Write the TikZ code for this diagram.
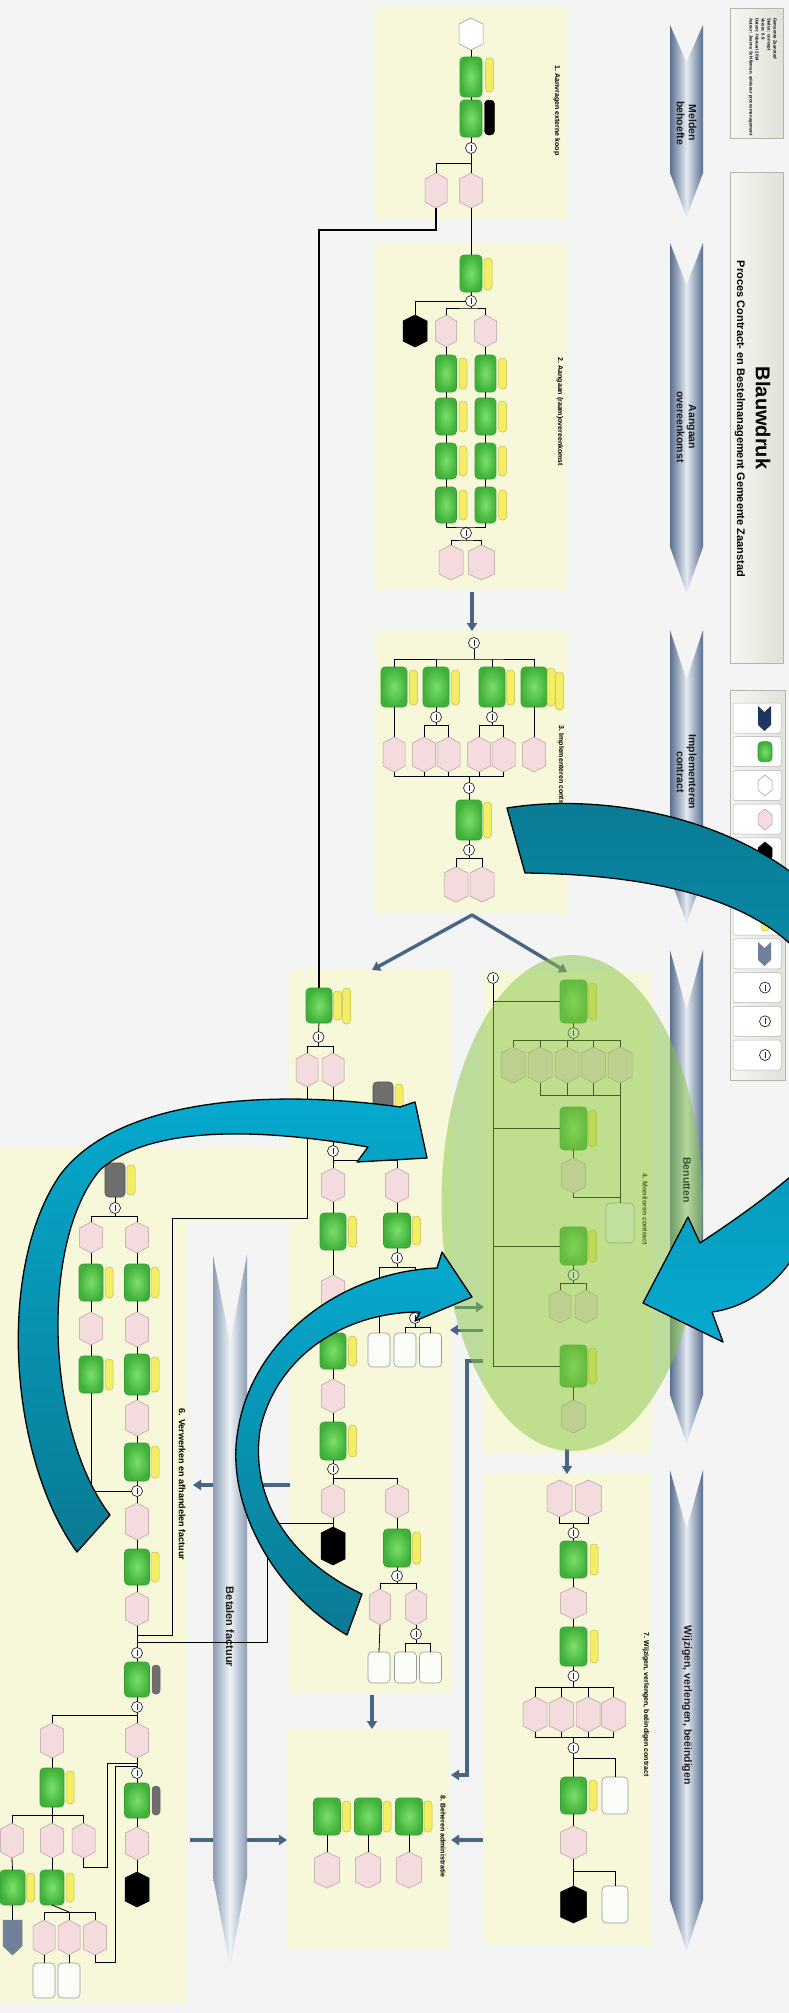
\documentclass[tikz,border=0pt]{standalone}
\usepackage{fontspec}
\setmainfont{Liberation Sans}
\usetikzlibrary{arrows.meta}
\definecolor{bgc}{HTML}{F3F4F3}
\definecolor{panelc}{HTML}{F7F8DA}
\definecolor{ginner}{HTML}{7CE06A}
\definecolor{gouter}{HTML}{3FB03A}
\definecolor{gdraw}{HTML}{3A9A35}
\definecolor{yfill}{HTML}{F4EE66}
\definecolor{ydraw}{HTML}{C4BC45}
\definecolor{pfill}{HTML}{F4DCDE}
\definecolor{pdraw}{HTML}{B49CA0}
\definecolor{wfill}{HTML}{FBFBF8}
\definecolor{wdraw}{HTML}{9A9A9A}
\definecolor{grayc}{HTML}{6E6E6E}
\definecolor{phasec}{HTML}{5A6F8F}
\definecolor{phaselight}{HTML}{E3EAF2}
\definecolor{betc}{HTML}{8C9CB4}
\definecolor{betlight}{HTML}{EEF2F7}
\definecolor{flowc}{HTML}{4A6486}
\definecolor{hdrL}{HTML}{F5F6F2}
\definecolor{hdrR}{HTML}{DFE2D8}
\definecolor{hdrdraw}{HTML}{B3B6AD}
\definecolor{navyc}{HTML}{1E3560}
\definecolor{flagc}{HTML}{6F809A}
\definecolor{ellc}{HTML}{89C644}
\definecolor{benc}{HTML}{34502F}
\definecolor{cyanbright}{HTML}{06AACF}
\definecolor{cyandark}{HTML}{0A7A93}
\tikzset{
 conn/.style={draw=black, line width=0.8pt},
 lconn/.style={draw=black, line width=1.1pt},
 gbox/.style={draw=gdraw, line width=0.6pt, rounded corners=4pt, inner color=ginner, outer color=gouter, inner sep=0pt, outer sep=0pt},
 graybox/.style={draw=black!70, fill=grayc, line width=0.6pt, rounded corners=4pt, inner sep=0pt, outer sep=0pt},
 wbox/.style={draw=wdraw, fill=wfill, line width=0.6pt, rounded corners=4pt, inner sep=0pt, outer sep=0pt},
 anchorbox/.style={inner sep=0pt, outer sep=0pt},
 phex/.style={draw=pdraw, fill=pfill, line width=0.5pt},
 whex/.style={draw=wdraw, fill=white, line width=0.5pt},
 bhex/.style={draw=black, fill=black, line width=0.5pt},
 ypill/.style={draw=ydraw, fill=yfill, line width=0.5pt, rounded corners=3.5pt},
 gpill/.style={draw=black!60, fill=grayc, line width=0.5pt, rounded corners=3.5pt},
 kpill/.style={draw=black, fill=black, rounded corners=4pt},
 circ/.style={circle, draw=black!85, fill=white, line width=0.7pt, minimum size=11pt, inner sep=0pt, outer sep=0pt,
   path picture={\draw[line width=0.5pt] ([yshift=2.5pt]path picture bounding box.south) -- ([yshift=-2.5pt]path picture bounding box.north);}},
 flow/.style={draw=flowc, line width=3.4pt, -{Triangle[length=8pt,width=10pt]}},
 panel/.style={fill=panelc},
 hdr/.style={draw=hdrdraw, line width=0.8pt, left color=hdrL, right color=hdrR},
 legitem/.style={draw=black!30, fill=white, rounded corners=2pt, line width=0.5pt},
 phasesh/.style={left color=phasec, right color=phasec, middle color=phaselight},
 betsh/.style={left color=betc, right color=betc, middle color=betlight},
 sectitle/.style={rotate=-90, anchor=west, font=\fontsize{7}{8}\selectfont\bfseries, inner sep=0pt},
 phaselabel/.style={rotate=-90, align=center, font=\fontsize{10.5}{12}\selectfont\bfseries, text=black!90, inner sep=0pt},
 cyanarr/.style={draw=black, line width=1.3pt, line join=round},
}
% name, cx, y1, y2, width
\newcommand{\GBox}[5]{\node[gbox, minimum width={#5*1pt}, minimum height={(#4-#3)*1pt}] (#1) at (#2,{(#3+#4)/2}) {};}
\newcommand{\WBox}[5]{\node[wbox, minimum width={#5*1pt}, minimum height={(#4-#3)*1pt}] (#1) at (#2,{(#3+#4)/2}) {};}
% cx, y1, y2
\newcommand{\YPill}[3]{\draw[ypill] ({#1-4},#2) rectangle ({#1+4},#3);}
% name, style, cx, y1, y2, halfwidth
\newcommand{\HexN}[6]{\draw[#2] ({#3-#6},{#4+6}) -- (#3,#4) -- ({#3+#6},{#4+6}) -- ({#3+#6},{#5-6}) -- (#3,#5) -- ({#3-#6},{#5-6}) -- cycle;
 \node[anchorbox, minimum width={2*#6*1pt}, minimum height={(#5-#4)*1pt}] (#1) at (#3,{(#4+#5)/2}) {};}
\newcommand{\CNode}[3]{\node[circ] (#1) at (#2,#3) {};}
\begin{document}
\begin{tikzpicture}[x=1pt,y=-1pt]
\useasboundingbox (0,0) rectangle (789,2013);
\fill[bgc] (0,0) rectangle (789,2013);
% ---------- header boxes ----------
\draw[hdr] (730,8) rectangle (783,138);
\draw[hdr] (730,172) rectangle (783,663);
\draw[hdr] (730,690) rectangle (785,1080);
\node[rotate=-90, anchor=north west, align=left, inner sep=0pt, font=\fontsize{4.3}{6}\selectfont\bfseries] (meta) at (777,18)
 {Gemeente Zaanstad\\Status: concept\\Versie: 0.9\\Datum: februari 2014\\Auteur: Jeanne Schilleman, adviseur procesmanagement};
\node[rotate=-90, inner sep=0pt, font=\fontsize{20}{24}\selectfont\bfseries] (title) at (763,418) {Blauwdruk};
\node[rotate=-90, inner sep=0pt, font=\fontsize{11}{13}\selectfont\bfseries] (subtitle) at (740,419) {Proces Contract- en Bestelmanagement Gemeente Zaanstad};
% legend
\foreach \i in {0,...,10} {\draw[legitem] (733,{703+33.7*\i}) rectangle (781,{733+33.7*\i});}
\fill[navyc] (758,706) -- (764.5,712) -- (771,706) -- (771,725) -- (764.5,731) -- (758,725) -- cycle;
\node[gbox, minimum width=14pt, minimum height=20pt] (lg1) at (765,751.7) {};
\HexN{lg2}{whex}{765}{775}{796}{7}
\HexN{lg3}{phex}{765}{809}{830}{7}
\HexN{lg4}{bhex}{765}{842}{863}{7}
\node[graybox, minimum width=14pt, minimum height=20pt] (lg5) at (765,886.5) {};
\draw[ypill] (761,910) rectangle (769,931);
\fill[flagc] (758,942) -- (764.5,948) -- (771,942) -- (771,960) -- (764.5,966) -- (758,960) -- cycle;
\node[circ] (lg8) at (765,987.6) {};
\node[circ] (lg9) at (765,1021.3) {};
\node[circ] (lg10) at (765,1055) {};
% ---------- panels ----------
\fill[panel] (375,8) rectangle (568,220);
\fill[panel] (375,243) rectangle (568,590);
\fill[panel] (375,632) rectangle (568,913);
\fill[panel] (483,972) rectangle (652,1453);
\fill[panel] (290,969) rectangle (452,1693);
\fill[panel] (0,1147) rectangle (188,2003);
\fill[panel] (188,1147) rectangle (290,1222);
\fill[panel] (483,1474) rectangle (652,1945);
\fill[panel] (288,1730) rectangle (450,1950);
% ---------- phase arrows ----------
\shade[phasesh] (670,25) -- (686.5,62) -- (703,25) -- (703,173) -- (686.5,217) -- (670,173) -- cycle;
\shade[phasesh] (670,243) -- (686.5,285) -- (703,243) -- (703,547) -- (686.5,593) -- (670,547) -- cycle;
\shade[phasesh] (670,630) -- (686.5,680) -- (703,630) -- (703,877) -- (686.5,923) -- (670,877) -- cycle;
\shade[phasesh] (670,950) -- (686.5,1010) -- (703,950) -- (703,1395) -- (686.5,1443) -- (670,1395) -- cycle;
\shade[phasesh] (670,1470) -- (686.5,1529) -- (703,1470) -- (703,1900) -- (686.5,1951) -- (670,1900) -- cycle;
\node[phaselabel] (ph1) at (686.5,123) {Melden\\behoefte};
\node[phaselabel] (ph2) at (686.5,427) {Aangaan\\overeenkomst};
\node[phaselabel] (ph3) at (686.5,772) {Implementeren\\contract};
\node[phaselabel] (ph5) at (687,1705) {Wijzigen, verlengen, beëindigen};
% ---------- flow arrows behind Betalen bar ----------
\coordinate (fa1) at (290,1485); \coordinate (fa2) at (193,1485);
\coordinate (fb1) at (190,1840); \coordinate (fb2) at (287,1840);
\draw[flow] (fa1) -- (fa2);
\draw[flow] (fb1) -- (fb2);
\shade[betsh] (213,1255) -- (230,1343) -- (247,1255) -- (247,1877) -- (230,1967) -- (213,1877) -- cycle;
\node[phaselabel, font=\fontsize{11}{13}\selectfont\bfseries] (ph6) at (230,1627) {Betalen factuur};
% ---------- section titles ----------
\node[sectitle] (t1) at (557,65) {1. Aanvragen externe koop};
\node[sectitle] (t2) at (560,357) {2. Aangaan (raam)overeenkomst};
\node[sectitle] (t3) at (561,725) {3. Implementeren contract};
\node[sectitle] (t4) at (645,1173) {4. Monitoren contract};
\node[sectitle, font=\fontsize{9}{10}\selectfont\bfseries] (t6) at (182,1408) {6. Verwerken en afhandelen factuur};
\node[sectitle] (t7) at (646,1632) {7. Wijzigen, verlengen, beëindigen contract};
\node[sectitle] (t8) at (443,1795) {8. Beheren administratie};
% ================= SECTION 1 =================
\HexN{wh11}{whex}{471}{18}{50}{12}
\GBox{g11}{471}{57}{97}{22}
\YPill{489.5}{58}{92}
\GBox{g12}{471}{100}{137}{22}
\draw[kpill] (484.5,100) rectangle (494.5,135);
\CNode{c11}{471}{148}
\HexN{p11}{phex}{471}{173}{208}{11.5}
\HexN{p12}{phex}{436}{173}{208}{11}
\coordinate (b11) at (471,163);
\draw[conn] (wh11.south) -- (g11.north);
\draw[conn] (g11.south) -- (g12.north);
\draw[conn] (g12.south) -- (c11.north);
\draw[conn] (c11.south) -- (p11.north);
\draw[conn] (b11) -| (p12.north);
% ================= SECTION 2 =================
\GBox{g21}{471}{255}{292}{22}
\YPill{488}{258}{290}
\CNode{c21}{471}{301}
\HexN{k21}{bhex}{415}{315}{347}{12}
\HexN{p21}{phex}{446}{315}{347}{10.5}
\HexN{p22}{phex}{485.5}{315}{347}{11}
\GBox{g2b1}{446}{355}{392}{21}\YPill{463}{358}{389}
\GBox{g2b2}{446}{398}{435}{21}\YPill{463}{401}{432}
\GBox{g2b3}{446}{443}{479}{21}\YPill{463}{446}{476}
\GBox{g2b4}{446}{487}{523}{21}\YPill{463}{490}{520}
\GBox{g2a1}{485.5}{355}{392}{21}\YPill{502.5}{358}{389}
\GBox{g2a2}{485.5}{398}{435}{21}\YPill{502.5}{401}{432}
\GBox{g2a3}{485.5}{443}{479}{21}\YPill{502.5}{446}{476}
\GBox{g2a4}{485.5}{487}{523}{21}\YPill{502.5}{490}{520}
\CNode{c22}{466}{533}
\HexN{p23}{phex}{451}{545}{580}{12}
\HexN{p24}{phex}{481.5}{545}{580}{13}
\coordinate (b21) at (471,308);
\coordinate (m21) at (466,527);
\coordinate (b22) at (466,540);
\draw[conn] (p11.south) -- (g21.north);
\draw[conn] (g21.south) -- (c21.north);
\draw[conn] (c21.west) -| (k21.north);
\draw[conn] (c21.south) -- (b21);
\draw[conn] (p21.north) |- (b21) -| (p22.north);
\draw[conn] (p21.south) -- (g2b1.north);
\draw[conn] (g2b1.south) -- (g2b2.north);
\draw[conn] (g2b2.south) -- (g2b3.north);
\draw[conn] (g2b3.south) -- (g2b4.north);
\draw[conn] (p22.south) -- (g2a1.north);
\draw[conn] (g2a1.south) -- (g2a2.north);
\draw[conn] (g2a2.south) -- (g2a3.north);
\draw[conn] (g2a3.south) -- (g2a4.north);
\draw[conn] (g2b4.south) |- (m21) -| (g2a4.south);
\draw[conn] (m21) -- (c22.north);
\draw[conn] (c22.south) -- (b22);
\draw[conn] (p23.north) |- (b22) -| (p24.north);
\coordinate (f23a) at (472,592); \coordinate (f23b) at (472,631);
\draw[flow] (f23a) -- (f23b);
% ================= SECTION 3 =================
\CNode{c31}{474}{643}
\coordinate (b31) at (474,659);
\GBox{g31}{394}{667}{707}{26}\YPill{413.5}{670}{705}
\GBox{g32}{436}{667}{707}{26}\YPill{455.5}{670}{705}
\GBox{g33}{492}{667}{707}{26}\YPill{510.5}{670}{705}
\GBox{g34}{534}{667}{707}{26}\YPill{551}{668}{706}\YPill{559.5}{672}{710}
\HexN{p31}{phex}{394}{737}{772}{11}
\CNode{c32}{436}{717}
\coordinate (b32) at (436,725);
\HexN{p32}{phex}{424}{737}{772}{11.5}
\HexN{p33}{phex}{448.5}{737}{772}{11.5}
\CNode{c33}{492}{717}
\coordinate (b33) at (492,725);
\HexN{p34}{phex}{479}{737}{772}{11.5}
\HexN{p35}{phex}{503.5}{737}{772}{11.5}
\HexN{p36}{phex}{534}{737}{772}{11.5}
\coordinate (m31) at (469,776);
\CNode{c34}{469}{788}
\GBox{g35}{469}{800}{840}{26}\YPill{487.5}{802}{838}
\CNode{c35}{469}{850}
\coordinate (b35) at (469,858);
\HexN{p37}{phex}{456}{867}{902}{12}
\HexN{p38}{phex}{482}{867}{902}{12}
\draw[conn] (c31.south) -- (b31);
\draw[conn] (g31.north) |- (b31) -| (g34.north);
\draw[conn] (g32.north) -- (g32.north |- b31);
\draw[conn] (g33.north) -- (g33.north |- b31);
\draw[conn] (g31.south) -- (p31.north);
\draw[conn] (g32.south) -- (c32.north);
\draw[conn] (c32.south) -- (b32);
\draw[conn] (p32.north) |- (b32) -| (p33.north);
\draw[conn] (g33.south) -- (c33.north);
\draw[conn] (c33.south) -- (b33);
\draw[conn] (p34.north) |- (b33) -| (p35.north);
\draw[conn] (g34.south) -- (p36.north);
\draw[conn] (p31.south) |- (m31) -| (p35.south);
\draw[conn] (p32.south) -- (p32.south |- m31);
\draw[conn] (p33.south) -- (p33.south |- m31);
\draw[conn] (p34.south) -- (p34.south |- m31);
\draw[conn] (m31) -- (c34.north);
\draw[conn] (c34.south) -- (g35.north);
\draw[conn] (g35.south) -- (c35.north);
\draw[conn] (c35.south) -- (b35);
\draw[conn] (p37.north) |- (b35) -| (p38.north);
% roof arrows
\coordinate (roof) at (472,915); \coordinate (roofL) at (372,970); \coordinate (roofR) at (567,972);
\draw[flow, line cap=round] (roof) -- (roofL);
\draw[flow, line cap=round] (roof) -- (roofR);
% ================= SECTION 4 =================
\CNode{c41}{493}{978}
\coordinate (v4) at (493,1366);
\GBox{g41}{573.5}{980}{1023}{27}\YPill{592.5}{983}{1020}
\CNode{c42}{573.5}{1033}
\coordinate (b42) at (573.5,1040);
\HexN{p41}{phex}{513}{1047}{1083}{12}
\HexN{p42}{phex}{540}{1047}{1083}{12}
\HexN{p43}{phex}{567}{1047}{1083}{12}
\HexN{p44}{phex}{593.5}{1047}{1083}{12}
\HexN{p45}{phex}{620}{1047}{1083}{12}
\coordinate (m42) at (620,1095);
\GBox{g42}{573.5}{1107}{1150}{27}\YPill{592.5}{1110}{1147}
\HexN{p46}{phex}{573.5}{1158}{1193}{12}
\WBox{w41}{620}{1203}{1243}{28}
\GBox{g43}{573.5}{1227}{1265}{27}\YPill{592.5}{1230}{1262}
\CNode{c43}{573.5}{1275}
\coordinate (b43) at (573.5,1283);
\HexN{p47}{phex}{560}{1290}{1323}{11}
\HexN{p48}{phex}{586}{1290}{1323}{11}
\GBox{g44}{573.5}{1345}{1387}{27}\YPill{592.5}{1348}{1384}
\HexN{p49}{phex}{573.5}{1400}{1433}{12}
\draw[conn] (c41.south) -- (v4);
\draw[conn] (g41.west) -- (g41.west -| c41);
\draw[conn] (g42.west) -- (g42.west -| c41);
\draw[conn] (g43.west) -- (g43.west -| c41);
\draw[conn] (g44.west) -- (g44.west -| c41);
\draw[conn] (g41.south) -- (c42.north);
\draw[conn] (c42.south) -- (b42);
\draw[conn] (p41.north) |- (b42) -| (p45.north);
\draw[conn] (p42.north) -- (p42.north |- b42);
\draw[conn] (p43.north) -- (p43.north |- b42);
\draw[conn] (p44.north) -- (p44.north |- b42);
\draw[conn] (p42.south) |- (m42);
\draw[conn] (p43.south) -- (p43.south |- m42);
\draw[conn] (p44.south) -- (p44.south |- m42);
\draw[conn] (p45.south) -- (w41.north);
\draw[conn] (g42.south) -- (p46.north);
\draw[conn] (p46.south) |- (w41.north |- 0,1197);
\draw[conn] (g43.south) -- (c43.north);
\draw[conn] (c43.south) -- (b43);
\draw[conn] (p47.north) |- (b43) -| (p48.north);
\draw[conn] (g44.south) -- (p49.north);
% ================= SECTION 5 =================
\GBox{g51}{319}{988}{1023}{26}\YPill{337.5}{991}{1020}\YPill{346.5}{988}{1024}
\CNode{c51}{318.5}{1037}
\coordinate (b51) at (318.5,1046);
\HexN{p51}{phex}{307}{1053}{1087}{11}
\HexN{p52}{phex}{333}{1053}{1087}{11}
\node[graybox, minimum width=20pt, minimum height=34pt] (k51) at (383,1099) {};
\YPill{399}{1084}{1114}
\CNode{c52}{333}{1151}
\coordinate (b52) at (333,1160);
\HexN{p5a1}{phex}{333}{1168}{1202}{11.5}
\GBox{g5a1}{333}{1213}{1250}{26}\YPill{352.5}{1216}{1247}
\HexN{p5a2}{phex}{333}{1275}{1310}{11.5}
\GBox{g5a2}{333}{1333}{1369}{26}\YPill{352.5}{1336}{1366}
\HexN{p5a3}{phex}{333}{1379}{1413}{11.5}
\GBox{g5a3}{333}{1422}{1460}{26}\YPill{352.5}{1425}{1457}
\CNode{c5a}{333}{1469}
\coordinate (b5a) at (333,1478);
\HexN{p5a4}{phex}{333}{1484}{1518}{11.5}
\HexN{k5a}{bhex}{333}{1527}{1565}{12}
\coordinate (j5a) at (333,1523);
\HexN{p5b1}{phex}{397}{1168}{1203}{11.5}
\GBox{g5b1}{397}{1213}{1248}{27}\YPill{416.5}{1216}{1245}
\CNode{c5b1}{397}{1258}
\coordinate (b5b1) at (397,1267);
\WBox{w5b1}{379}{1333}{1367}{22}
\CNode{c5b2}{415}{1318}
\coordinate (b5b2) at (415,1327);
\WBox{w5b2}{405}{1333}{1367}{22}
\WBox{w5b3}{430.5}{1333}{1367}{22}
\HexN{p5b2}{phex}{397}{1484}{1518}{11.5}
\GBox{g5b2}{397}{1529}{1567}{27}\YPill{416.5}{1532}{1564}
\CNode{c5b3}{397}{1576}
\coordinate (b5b3) at (397,1583);
\HexN{p5b3}{phex}{380}{1589}{1625}{10.5}
\HexN{p5b4}{phex}{416}{1589}{1625}{10.5}
\WBox{w5b4}{379}{1652}{1683}{22}
\CNode{c5b4}{416}{1634}
\coordinate (b5b4) at (416,1643);
\WBox{w5b5}{405.5}{1652}{1683}{22}
\WBox{w5b6}{430.5}{1652}{1683}{22}
\draw[lconn] (p12.south) -- ++(0,22) -| (g51.north);
\draw[conn] (g51.south) -- (c51.north);
\draw[conn] (c51.south) -- (b51);
\draw[conn] (p51.north) |- (b51) -| (p52.north);
\draw[conn] (p52.south) -- (c52.north);
\draw[conn] (c52.south) -- (p5a1.north);
\draw[conn] (b52) -| (p5b1.north);
\draw[conn] (p5a1.south) -- (g5a1.north);
\draw[conn] (g5a1.south) -- (p5a2.north);
\draw[conn] (p5a2.south) -- (g5a2.north);
\draw[conn] (g5a2.south) -- (p5a3.north);
\draw[conn] (p5a3.south) -- (g5a3.north);
\draw[conn] (g5a3.south) -- (c5a.north);
\draw[conn] (c5a.south) -- (p5a4.north);
\draw[conn] (b5a) -| (p5b2.north);
\draw[conn] (p5a4.south) -- (k5a.north);
\draw[conn] (p5b1.south) -- (g5b1.north);
\draw[conn] (g5b1.south) -- (c5b1.north);
\draw[conn] (c5b1.south) -- (b5b1);
\draw[conn] (w5b1.north) |- (b5b1) -| (c5b2.north);
\draw[conn] (c5b2.south) -- (b5b2);
\draw[conn] (w5b2.north) |- (b5b2) -| (w5b3.north);
\draw[conn] (p5b2.south) -- (g5b2.north);
\draw[conn] (g5b2.south) -- (c5b3.north);
\draw[conn] (c5b3.south) -- (b5b3);
\draw[conn] (p5b3.north) |- (b5b3) -| (p5b4.north);
\draw[conn] (p5b3.south) -- (w5b4.north);
\draw[conn] (p5b4.south) -- (c5b4.north);
\draw[conn] (c5b4.south) -- (b5b4);
\draw[conn] (w5b5.north) |- (b5b4) -| (w5b6.north);
% ================= SECTION 6 =================
\node[graybox, minimum width=20pt, minimum height=34pt] (k61) at (115,1180) {};
\YPill{131}{1165}{1195}
\CNode{c61}{115}{1208}
\coordinate (b61) at (115,1216);
\HexN{p6l1}{phex}{91}{1222}{1253}{11.5}
\GBox{g6l1}{91}{1264}{1301}{24}\YPill{109}{1267}{1298}
\HexN{p6l2}{phex}{91}{1312}{1345}{11.5}
\GBox{g6l2}{91}{1356}{1393}{24}\YPill{109}{1359}{1390}
\HexN{p6r1}{phex}{137}{1222}{1253}{11.5}
\GBox{g6r1}{137}{1264}{1301}{25}\YPill{155}{1267}{1298}
\HexN{p6r2}{phex}{137}{1312}{1347}{11.5}
\GBox{g6r2}{137}{1354}{1395}{25}\YPill{155}{1357}{1392}
\HexN{p6r3}{phex}{137}{1400}{1436}{11.5}
\GBox{g6r3}{137}{1443}{1481}{25}\YPill{155}{1446}{1478}
\CNode{c62}{137}{1491}
\HexN{p6r4}{phex}{137}{1503}{1540}{11.5}
\GBox{g6r4}{137}{1549}{1585}{25}\YPill{155}{1552}{1582}
\HexN{p6r5}{phex}{137}{1592}{1626}{11.5}
\coordinate (j61) at (137,1635);
\coordinate (j62) at (137,1642);
\CNode{c63}{137}{1653}
\GBox{g6r5}{137}{1662}{1697}{25}\draw[gpill] (152,1665) rectangle (160,1694);
\CNode{c64}{137}{1707}
\coordinate (b64) at (137,1715);
\HexN{p6r6}{phex}{137}{1723}{1758}{11.5}
\CNode{c65}{137}{1773}
\GBox{g6r6}{137}{1783}{1818}{25}\draw[gpill] (152,1786) rectangle (160,1815);
\HexN{p6r7}{phex}{137}{1827}{1860}{11.5}
\HexN{k62}{bhex}{137}{1872}{1907}{12}
\HexN{p6l3}{phex}{52}{1723}{1758}{11.5}
\GBox{g6l3}{52}{1768}{1807}{24}\YPill{70}{1771}{1804}
\coordinate (b6l3) at (52,1815);
\HexN{p6l4}{phex}{12}{1823}{1858}{11.5}
\HexN{p6l5}{phex}{52}{1823}{1858}{11.5}
\HexN{p6l6}{phex}{83.5}{1823}{1858}{11.5}
\GBox{g6l4}{12.5}{1870}{1905}{25}\YPill{30.5}{1873}{1902}
\draw[fill=flagc, draw=black!50, line width=0.5pt] (3,1920) -- (22,1920) -- (22,1946) -- (12.5,1955) -- (3,1946) -- cycle;
\node[anchorbox, minimum width=19pt, minimum height=35pt] (fl61) at (12.5,1937.5) {};
\GBox{g6l5}{52}{1870}{1905}{24}\YPill{70}{1873}{1902}
\coordinate (b6l5) at (52,1912);
\HexN{p6l7}{phex}{44}{1920}{1955}{11}
\HexN{p6l8}{phex}{69}{1920}{1955}{11}
\HexN{p6l9}{phex}{95}{1920}{1955}{11.5}
\WBox{w6l1}{44}{1963}{1998}{22}
\WBox{w6l2}{69}{1963}{1998}{22}
\coordinate (j63) at (137,1763);
\coordinate (j64) at (137,1766);
\draw[conn] (k61.south) -- (c61.north);
\draw[conn] (c61.south) -- (b61);
\draw[conn] (p6l1.north) |- (b61) -| (p6r1.north);
\draw[conn] (p6l1.south) -- (g6l1.north);
\draw[conn] (g6l1.south) -- (p6l2.north);
\draw[conn] (p6l2.south) -- (g6l2.north);
\draw[conn] (g6l2.south) |- (c62.west);
\draw[conn] (p6r1.south) -- (g6r1.north);
\draw[conn] (g6r1.south) -- (p6r2.north);
\draw[conn] (p6r2.south) -- (g6r2.north);
\draw[conn] (g6r2.south) -- (p6r3.north);
\draw[conn] (p6r3.south) -- (g6r3.north);
\draw[conn] (g6r3.south) -- (c62.north);
\draw[conn] (c62.south) -- (p6r4.north);
\draw[conn] (p6r4.south) -- (g6r4.north);
\draw[conn] (g6r4.south) -- (p6r5.north);
\draw[conn] (p6r5.south) -- (c63.north);
\draw[conn] (c63.south) -- (g6r5.north);
\draw[conn] (g6r5.south) -- (c64.north);
\draw[conn] (c64.south) -- (p6r6.north);
\draw[conn] (p6l3.north) |- (b64);
\draw[conn] (p6r6.south) -- (c65.north);
\draw[conn] (c65.south) -- (g6r6.north);
\draw[conn] (g6r6.south) -- (p6r7.north);
\draw[conn] (p6r7.south) -- (k62.north);
\draw[conn] (p6l3.south) -- (g6l3.north);
\draw[conn] (g6l3.south) -- (p6l5.north);
\draw[conn] (p6l4.north) |- (b6l3) -| (p6l6.north);
\draw[conn] (p6l4.south) -- (g6l4.north);
\draw[conn] (g6l4.south) -- (fl61.north);
\draw[conn] (p6l5.south) -- (g6l5.north);
\draw[conn] (g6l5.south) -- (p6l8.north |- b6l5);
\draw[conn] (p6l7.north) |- (b6l5) -| (p6l9.north);
\draw[conn] (p6l8.north) -- (p6l8.north |- b6l5);
\draw[conn] (p6l7.south) -- (w6l1.north);
\draw[conn] (p6l8.south) -- (w6l2.north);
\draw[conn] (p6l6.south) |- (107,1867) |- (j63);
\draw[conn] (p6l9.south) |- (115,1962) |- (j64);
% long links from section 5 into section 6
\draw[conn] (p51.south) |- (172,1218) |- (j61);
\draw[conn] (j5a) -| (267,1642) -- (j62);
% ================= SECTION 7 =================
\HexN{p71}{phex}{559.5}{1480}{1517}{12.5}
\HexN{p72}{phex}{588.5}{1480}{1517}{13}
\coordinate (m71) at (573.5,1523);
\CNode{c71}{573.5}{1533}
\GBox{g71}{573.5}{1541}{1578}{27}\YPill{594}{1544}{1575}
\HexN{p73}{phex}{573.5}{1587}{1619}{13}
\GBox{g72}{573.5}{1627}{1666}{27}\YPill{594}{1630}{1663}
\CNode{c72}{573.5}{1676}
\coordinate (b72) at (573.5,1687);
\HexN{p74}{phex}{535}{1697}{1732}{12}
\HexN{p75}{phex}{561.5}{1697}{1732}{12}
\HexN{p76}{phex}{588}{1697}{1732}{12}
\HexN{p77}{phex}{613.5}{1697}{1732}{12}
\coordinate (m72) at (573.5,1737);
\CNode{c73}{573.5}{1748}
\coordinate (b73) at (573.5,1758);
\GBox{g73}{573.5}{1777}{1814}{26}\YPill{593}{1780}{1811}
\WBox{w71}{615}{1777}{1814}{26}
\HexN{p78}{phex}{573.5}{1826}{1859}{13}
\coordinate (b74) at (573.5,1871);
\HexN{k71}{bhex}{573.5}{1886}{1923}{13}
\WBox{w72}{615}{1886}{1923}{26}
\draw[conn] (p71.south) |- (m71) -| (p72.south);
\draw[conn] (m71) -- (c71.north);
\draw[conn] (c71.south) -- (g71.north);
\draw[conn] (g71.south) -- (p73.north);
\draw[conn] (p73.south) -- (g72.north);
\draw[conn] (g72.south) -- (c72.north);
\draw[conn] (c72.south) -- (b72);
\draw[conn] (p74.north) |- (b72) -| (p77.north);
\draw[conn] (p75.north) -- (p75.north |- b72);
\draw[conn] (p76.north) -- (p76.north |- b72);
\draw[conn] (p74.south) |- (m72) -| (p77.south);
\draw[conn] (p75.south) -- (p75.south |- m72);
\draw[conn] (p76.south) -- (p76.south |- m72);
\draw[conn] (m72) -- (c73.north);
\draw[conn] (c73.south) -- (g73.north);
\draw[conn] (b73) -| (w71.north);
\draw[conn] (g73.south) -- (p78.north);
\draw[conn] (p78.south) -- (k71.north);
\draw[conn] (b74) -| (w72.north);
% ================= SECTION 8 =================
\GBox{g81}{327}{1798}{1835}{27}\YPill{346.5}{1801}{1832}
\GBox{g82}{368}{1798}{1835}{27}\YPill{387}{1801}{1832}
\GBox{g83}{409}{1798}{1835}{27}\YPill{428}{1801}{1832}
\HexN{p81}{phex}{327}{1852}{1888}{12.5}
\HexN{p82}{phex}{368}{1852}{1888}{12.5}
\HexN{p83}{phex}{409}{1852}{1888}{12.5}
\draw[conn] (g81.south) -- (p81.north);
\draw[conn] (g82.south) -- (p82.north);
\draw[conn] (g83.south) -- (p83.north);
% ---------- other flow arrows ----------
\coordinate (fc1) at (567,1449); \coordinate (fc2) at (567,1474);
\draw[flow] (fc1) -- (fc2);
\coordinate (fd1) at (372,1695); \coordinate (fd2) at (372,1729);
\draw[flow] (fd1) -- (fd2);
\coordinate (fe1) at (483,1361); \coordinate (fe2) at (451,1775);
\draw[flow] (fe1) -| (467,1775) -- (fe2);
\coordinate (ff1) at (483,1840); \coordinate (ff2) at (451,1840);
\draw[flow] (ff1) -- (ff2);
\coordinate (fg1) at (455,1307); \coordinate (fg2) at (484,1307);
\draw[flow, line width=3pt] (fg1) -- (fg2);
\coordinate (fh1) at (483,1330); \coordinate (fh2) at (450,1330);
\draw[flow, line width=3pt] (fh1) -- (fh2);
% ---------- ellipse ----------
\fill[ellc, fill opacity=0.5] (572,1203) ellipse [x radius=130.5pt, y radius=248pt];
\node[phaselabel, anchor=west, text=benc] (ph4) at (687,1157) {Benutten};
% ---------- cyan arrows ----------
\path[cyanarr, top color=cyandark, bottom color=cyanbright]
 (507,808) .. controls (650,785) and (860,850) .. (880,1020)
 .. controls (890,1110) and (780,1190) .. (700,1243)
 -- (688,1217) -- (643,1303) -- (723,1342) -- (712,1312)
 .. controls (800,1300) and (850,1180) .. (835,1030)
 .. controls (820,920) and (700,875) .. (525,873) -- cycle;
\path[cyanarr, top color=cyanbright, bottom color=cyandark]
 (77,1552) .. controls (10,1460) and (-5,1270) .. (60,1175)
 .. controls (120,1095) and (280,1090) .. (400,1107)
 -- (415,1102) -- (427,1158) -- (357,1162) -- (368,1147)
 .. controls (260,1128) and (150,1125) .. (100,1170)
 .. controls (40,1240) and (45,1430) .. (110,1515) -- cycle;
\path[cyanarr, top color=cyanbright, bottom color=cyandark]
 (347,1635) .. controls (270,1590) and (225,1500) .. (238,1430)
 .. controls (252,1340) and (340,1272) .. (437,1268)
 -- (442,1252) -- (472,1297) -- (415,1321) -- (420,1312)
 .. controls (340,1312) and (275,1360) .. (260,1430)
 .. controls (250,1500) and (290,1560) .. (362,1594) -- cycle;
\end{tikzpicture}
\end{document}
